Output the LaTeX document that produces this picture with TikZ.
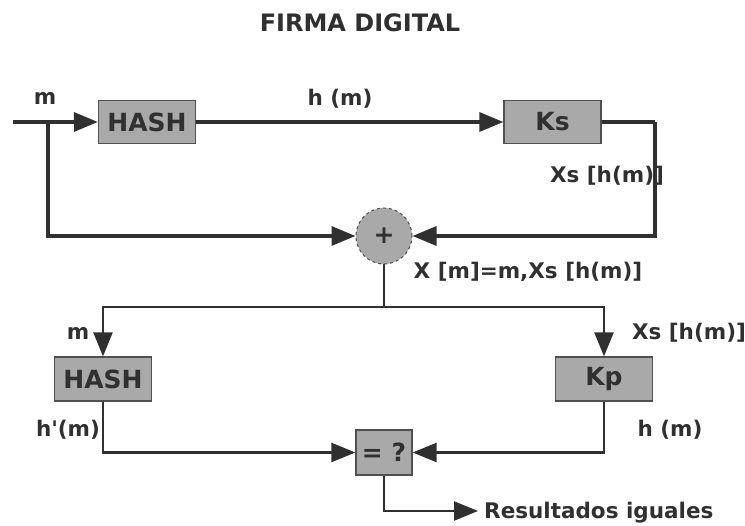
\documentclass[tikz,border=0pt]{standalone}
\usepackage{fontspec}
% plain family: no TeX ligature mapping, so ' stays a straight quote
\newfontfamily\diagfont{DejaVu Sans}
\usetikzlibrary{arrows.meta}
\definecolor{ink}{HTML}{303030}
\definecolor{boxfill}{HTML}{A9A9A9}
\definecolor{boxline}{HTML}{505050}
\begin{document}
\begin{tikzpicture}[x=1pt,y=-1pt,
  font=\diagfont\bfseries, text=ink,
  block/.style={draw=boxline, line width=1.2pt, fill=boxfill, minimum width=97pt,
    minimum height=43pt, inner sep=0pt, font=\diagfont\fontsize{25}{27}\selectfont\bfseries},
  lbl/.style={font=\diagfont\fontsize{21.5}{24}\selectfont\bfseries, inner sep=0pt},
  thick link/.style={draw=ink, line width=3.2pt, -{Triangle[length=24pt,width=19pt]}},
  thin link/.style={draw=ink, line width=2.4pt, -{Triangle[length=24pt,width=19pt]}},
  plain thick/.style={draw=ink, line width=3.2pt},
  plain thin/.style={draw=ink, line width=2.4pt}]
\useasboundingbox (0,0) rectangle (745,526);

% title
\node[font=\diagfont\fontsize{24}{26}\selectfont\bfseries] (title) at (360,23) {FIRMA DIGITAL};

% signing side
\node[block] (hash1) at (147,122) {HASH};
\node[block] (ks) at (552.5,122) {Ks};
\node[circle, draw=boxline, dashed, line width=1pt, fill=boxfill, minimum size=56pt,
  inner sep=0pt, font=\diagfont\fontsize{25}{27}\selectfont\bfseries] (plus) at (384,236) {+};
\coordinate (in) at (13,122);
\coordinate (split) at (48,122);
\coordinate (kscorner) at (655,122);
\coordinate (junction) at (384,307);

% verification side
\node[block, minimum height=44pt] (hash2) at (103,379) {HASH};
\node[block, minimum height=44pt] (kp) at (604,379) {Kp};
\node[block, minimum width=56pt, minimum height=45pt] (eq) at (384,452.5) {= ?};
\node[lbl, anchor=west] (res) at (484,513) {Resultados iguales};

% connectors
\draw[thick link] (in) -- (hash1);
\draw[thick link] (split) |- (plus.west);
\draw[thick link] (hash1) -- (ks);
\draw[plain thick] (ks.east) -- (kscorner);
\draw[thick link] (kscorner) |- (plus.east);
\draw[plain thin] (plus.south) -- (junction);
\draw[thin link] (junction) -| (hash2.north);
\draw[thin link] (junction) -| (kp.north);
\draw[thin link] (hash2.south) |- (eq.west);
\draw[thin link] (kp.south) |- (eq.east);
\draw[thin link] (eq.south) |- ([xshift=-6pt,yshift=2pt]res.west);

% labels
\node[lbl] (lm1) at (45,98) {m};
\node[lbl] (lhm1) at (340,99) {h (m)};
\node[lbl] (lxs1) at (607,176) {Xs [h(m)]};
\node[lbl] (lx) at (528,272) {X [m]=m,Xs [h(m)]};
\node[lbl] (lm2) at (78,333) {m};
\node[lbl] (lxs2) at (689,333) {Xs [h(m)]};
\node[lbl] (lhp) at (68,430) {h'(m)};
\node[lbl] (lhm2) at (670,430) {h (m)};
\end{tikzpicture}
\end{document}
